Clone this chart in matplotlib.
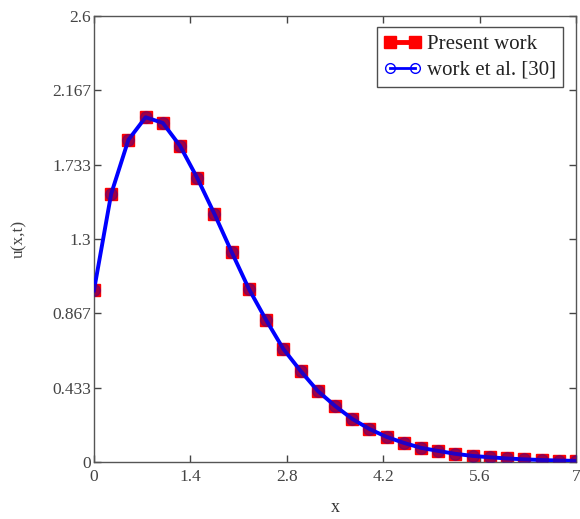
import matplotlib
matplotlib.use("Agg")
import matplotlib.pyplot as plt
from matplotlib.lines import Line2D

# data
x_vals = [0.0, 0.25, 0.5, 0.75, 1.0, 1.25, 1.5, 1.75, 2.0, 2.25, 2.5, 2.75, 3.0,
          3.25, 3.5, 3.75, 4.0, 4.25, 4.5, 4.75, 5.0, 5.25, 5.5, 5.75, 6.0,
          6.25, 6.5, 6.75, 7.0]
u_present = [1.0, 1.563, 1.878, 2.01, 1.977, 1.843, 1.656, 1.446, 1.224, 1.009,
             0.828, 0.659, 0.531, 0.414, 0.327, 0.251, 0.192, 0.146, 0.111,
             0.082, 0.064, 0.047, 0.035, 0.027, 0.02, 0.015, 0.011, 0.008, 0.006]
u_ref = u_present
y_ticks = [0, 0.433, 0.867, 1.3, 1.733, 2.167, 2.6]
y_tick_labels = ["0", "0.433", "0.867", "1.3", "1.733", "2.167", "2.6"]
x_ticks = [0, 1.4, 2.8, 4.2, 5.6, 7]
x_tick_labels = ["0", "1.4", "2.8", "4.2", "5.6", "7"]

plt.rcParams['font.family'] = ['Liberation Serif', 'DejaVu Serif']

fig = plt.figure(figsize=(5.8, 5.19), dpi=100)
ax = fig.add_axes([0.162, 0.110, 0.831, 0.859])

ax.plot(x_vals, u_present, color='red', marker='s', markersize=8,
        linestyle='none', label='Present work', zorder=2)
ax.plot(x_vals, u_ref, color='blue', linewidth=2.8, marker='o', markersize=8.5,
        markerfacecolor=(0.25, 0.0, 0.55, 0.5), markeredgecolor=(0.25, 0.0, 0.55, 0.4),
        label='work et al. [30]', zorder=3)

ax.set_xlim(0, 7)
ax.set_ylim(0, 2.6)
ax.set_xticks(x_ticks)
ax.set_xticklabels(x_tick_labels)
ax.set_yticks(y_ticks)
ax.set_yticklabels(y_tick_labels)
ax.tick_params(direction='in', top=True, right=True, length=5, width=1,
               color='#444444', labelsize=12.5, labelcolor='#444444', pad=2)
ax.tick_params(axis='x', pad=5)
for s in ax.spines.values():
    s.set_color('#555555')
    s.set_linewidth(1)

ax.set_xlabel('x', fontsize=13, color='#333333', labelpad=10)
ax.set_ylabel('u(x,t)', fontsize=12.5, color='#444444', labelpad=18)

handles = [Line2D([], [], color='red', marker='s', markersize=8, linewidth=3.5),
           Line2D([], [], color='blue', marker='o', markersize=7, linewidth=2,
                  markerfacecolor='none')]
leg = ax.legend(handles, ['Present work', 'work et al. [30]'], loc='upper right',
                fontsize=15, frameon=True, fancybox=False, numpoints=2,
                handlelength=1.8, handletextpad=0.25, borderpad=0.35, labelspacing=0.3,
                borderaxespad=0.0, bbox_to_anchor=(0.973, 0.975))
leg.get_frame().set_edgecolor('#222222')
leg.get_frame().set_linewidth(1)
for t in leg.get_texts():
    t.set_color('#222222')

fig.savefig('out.png', dpi=100)
